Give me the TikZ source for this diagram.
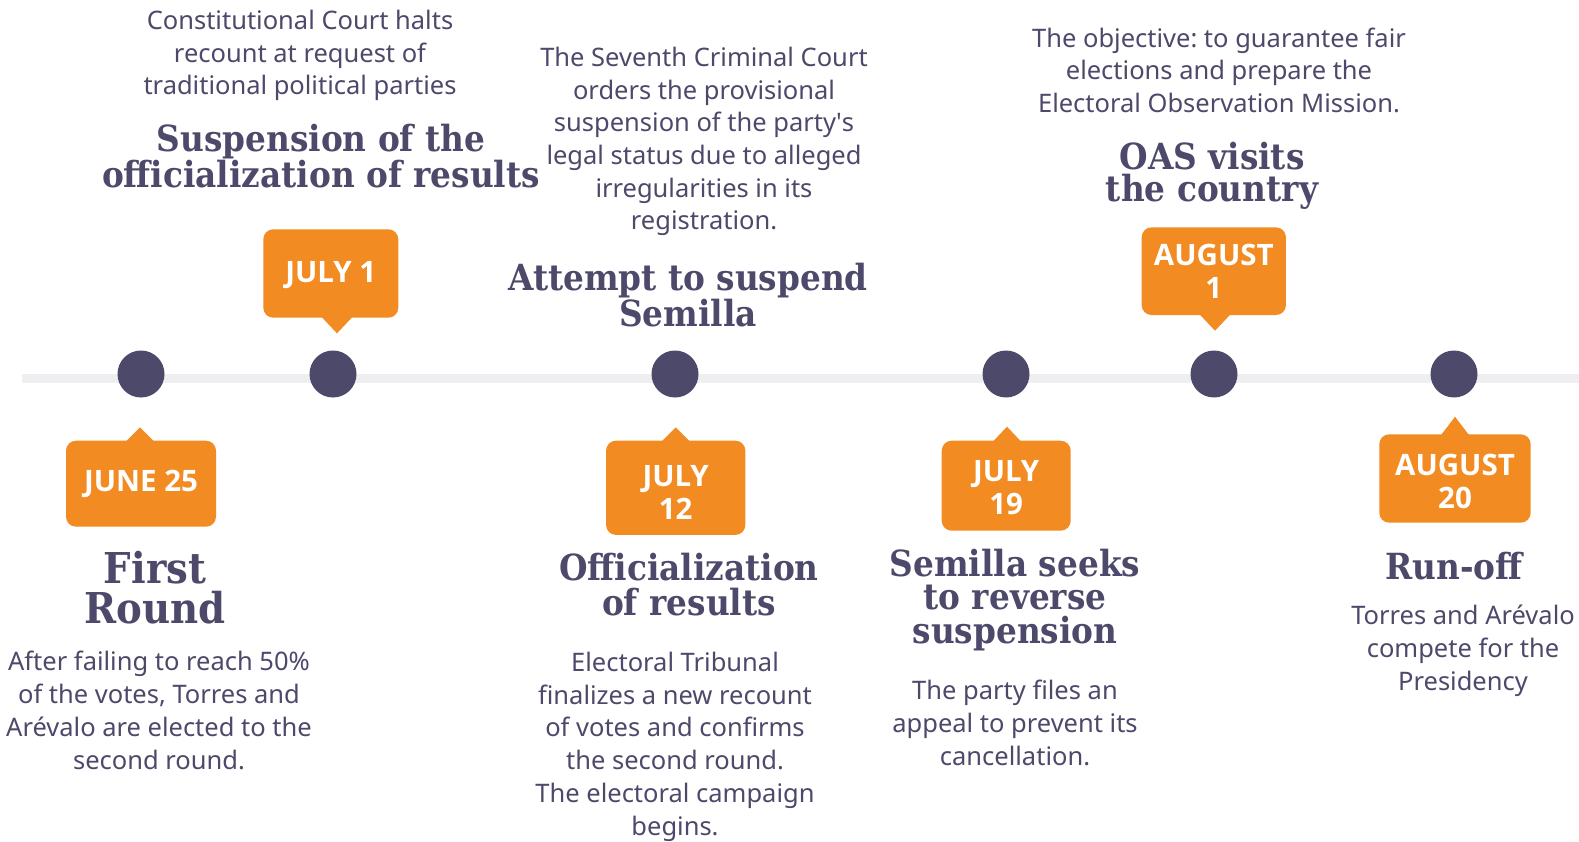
\documentclass[tikz,border=0pt]{standalone}
\usepackage{fontspec}
\setmainfont{Noto Sans}
\newfontfamily\plainfont{Noto Sans}
\newfontfamily\datefont{Open Sans}
\newfontfamily\titlefont{DejaVu Serif}[FakeStretch=0.91]
\newcommand{\sq}{{\plainfont'}}
\usetikzlibrary{calc}
\frenchspacing
\definecolor{ink}{RGB}{77,73,106}
\definecolor{tlorange}{RGB}{242,139,34}
\definecolor{rail}{RGB}{239,239,242}
\tikzset{
  dot/.style={circle, fill=ink, minimum size=47pt, inner sep=0pt},
  datebox/.style={fill=tlorange, rounded corners=10pt, inner sep=0pt},
  datetext/.style={text=white, inner sep=0pt, align=center,
    font=\datefont\bfseries\fontsize{29.5}{33}\selectfont},
  headline/.style={text=ink, align=center, inner sep=0pt, anchor=base,
    font=\titlefont\bfseries\fontsize{36}{34.5}\selectfont},
  blurb/.style={text=ink, align=center, inner sep=0pt, anchor=base,
    font=\fontsize{25.5}{32.7}\selectfont},
  pointer/.style={fill=tlorange},
}
\begin{document}
\begin{tikzpicture}[x=1pt,y=-1pt]
\useasboundingbox[fill=white] (0,0) rectangle (1579,842);

% timeline rail
\coordinate (railL) at (22,378.6);
\coordinate (railR) at (1579,378.6);
\draw[rail, line width=9.3pt] (railL) -- (railR);

% event markers
\node[dot] (c1) at (141,374) {};
\node[dot] (c2) at (333,374) {};
\node[dot] (c3) at (675,374) {};
\node[dot] (c4) at (1006,374) {};
\node[dot] (c5) at (1214,374) {};
\node[dot] (c6) at (1454,374) {};

% pointer tips of the date labels
\coordinate (t1) at (140,427.3);
\coordinate (t2) at (337,333.3);
\coordinate (t3) at (675.7,427.3);
\coordinate (t4) at (1007,426.7);
\coordinate (t5) at (1215,330.7);
\coordinate (t6) at (1455,416.7);

% date label boxes
\node[datebox, minimum width=150pt, minimum height=86pt] (d1) at (141,483.7) {};
\node[datebox, minimum width=135pt, minimum height=88.4pt] (d2) at (330.8,273.5) {};
\node[datebox, minimum width=139.3pt, minimum height=94.3pt] (d3) at (675.7,487.8) {};
\node[datebox, minimum width=129pt, minimum height=90pt] (d4) at (1006.2,485.7) {};
\node[datebox, minimum width=144.3pt, minimum height=87.7pt] (d5) at (1213.8,271.2) {};
\node[datebox, minimum width=151.4pt, minimum height=88.4pt] (d6) at (1455,478.5) {};

\fill[pointer] ($(d1.north -| t1)+(-14,1)$) -- (t1) -- ($(d1.north -| t1)+(14,1)$) -- cycle;
\fill[pointer] ($(d2.south -| t2)+(-15.5,-1)$) -- (t2) -- ($(d2.south -| t2)+(15.5,-1)$) -- cycle;
\fill[pointer] ($(d3.north -| t3)+(-14,1)$) -- (t3) -- ($(d3.north -| t3)+(14,1)$) -- cycle;
\fill[pointer] ($(d4.north -| t4)+(-14,1)$) -- (t4) -- ($(d4.north -| t4)+(14,1)$) -- cycle;
\fill[pointer] ($(d5.south -| t5)+(-15.5,-1)$) -- (t5) -- ($(d5.south -| t5)+(15.5,-1)$) -- cycle;
\fill[pointer] ($(d6.north -| t6)+(-14,1)$) -- (t6) -- ($(d6.north -| t6)+(14,1)$) -- cycle;

% date label texts
\node[datetext] (l1) at ($(d1.center)+(0,0)$) {JUNE 25};
\node[datetext] (l2) at ($(d2.center)+(0,2)$) {JULY 1};
\node[datetext] (l3) at ($(d3.center)+(0,5)$) {JULY\\12};
\node[datetext] (l4) at ($(d4.center)+(0,2)$) {JULY\\19};
\node[datetext] (l5) at ($(d5.center)+(0,0)$) {AUGUST\\1};
\node[datetext] (l6) at ($(d6.center)+(0,2.5)$) {AUGUST\\20};

% headlines (placed by the baseline of their last line)
\node[headline] (h1) at (321,187.3) {Suspension of the\\officialization of results};
\node[headline] (h2) at (688,326) {Attempt to suspend\\Semilla};
\node[headline, font=\titlefont\bfseries\fontsize{36}{32.5}\selectfont] (h3) at (1212,201.7) {OAS visits\\the country};
\node[headline, font=\titlefont\bfseries\fontsize{42.5}{40}\selectfont] (h4) at (155,623.3) {First\\Round};
\node[headline] (h5) at (689,615) {Officialization\\of results};
\node[headline, font=\titlefont\bfseries\fontsize{36}{33.5}\selectfont] (h6) at (1015,643.3) {Semilla seeks\\to reverse\\suspension};
\node[headline] (h7) at (1454,579) {Run-off};

% descriptions (placed by the baseline of their last line)
\node[blurb] (b1) at (300,95) {Constitutional Court halts\\recount at request of\\traditional political parties};
\node[blurb] (b2) at (704,230) {The Seventh Criminal Court\\orders the provisional\\suspension of the party\sq s\\legal status due to alleged\\irregularities in its\\registration.};
\node[blurb] (b3) at (1219,112.7) {The objective: to guarantee fair\\elections and prepare the\\Electoral Observation Mission.};
\node[blurb] (b4) at (159,769) {After failing to reach 50\%\\of the votes, Torres and\\Arévalo are elected to the\\second round.};
\node[blurb] (b5) at (675,835) {Electoral Tribunal\\finalizes a new recount\\of votes and confirms\\the second round.\\The electoral campaign\\begins.};
\node[blurb] (b6) at (1015,765) {The party files an\\appeal to prevent its\\cancellation.};
\node[blurb] (b7) at (1463,690) {Torres and Arévalo\\compete for the\\Presidency};
\end{tikzpicture}
\end{document}
